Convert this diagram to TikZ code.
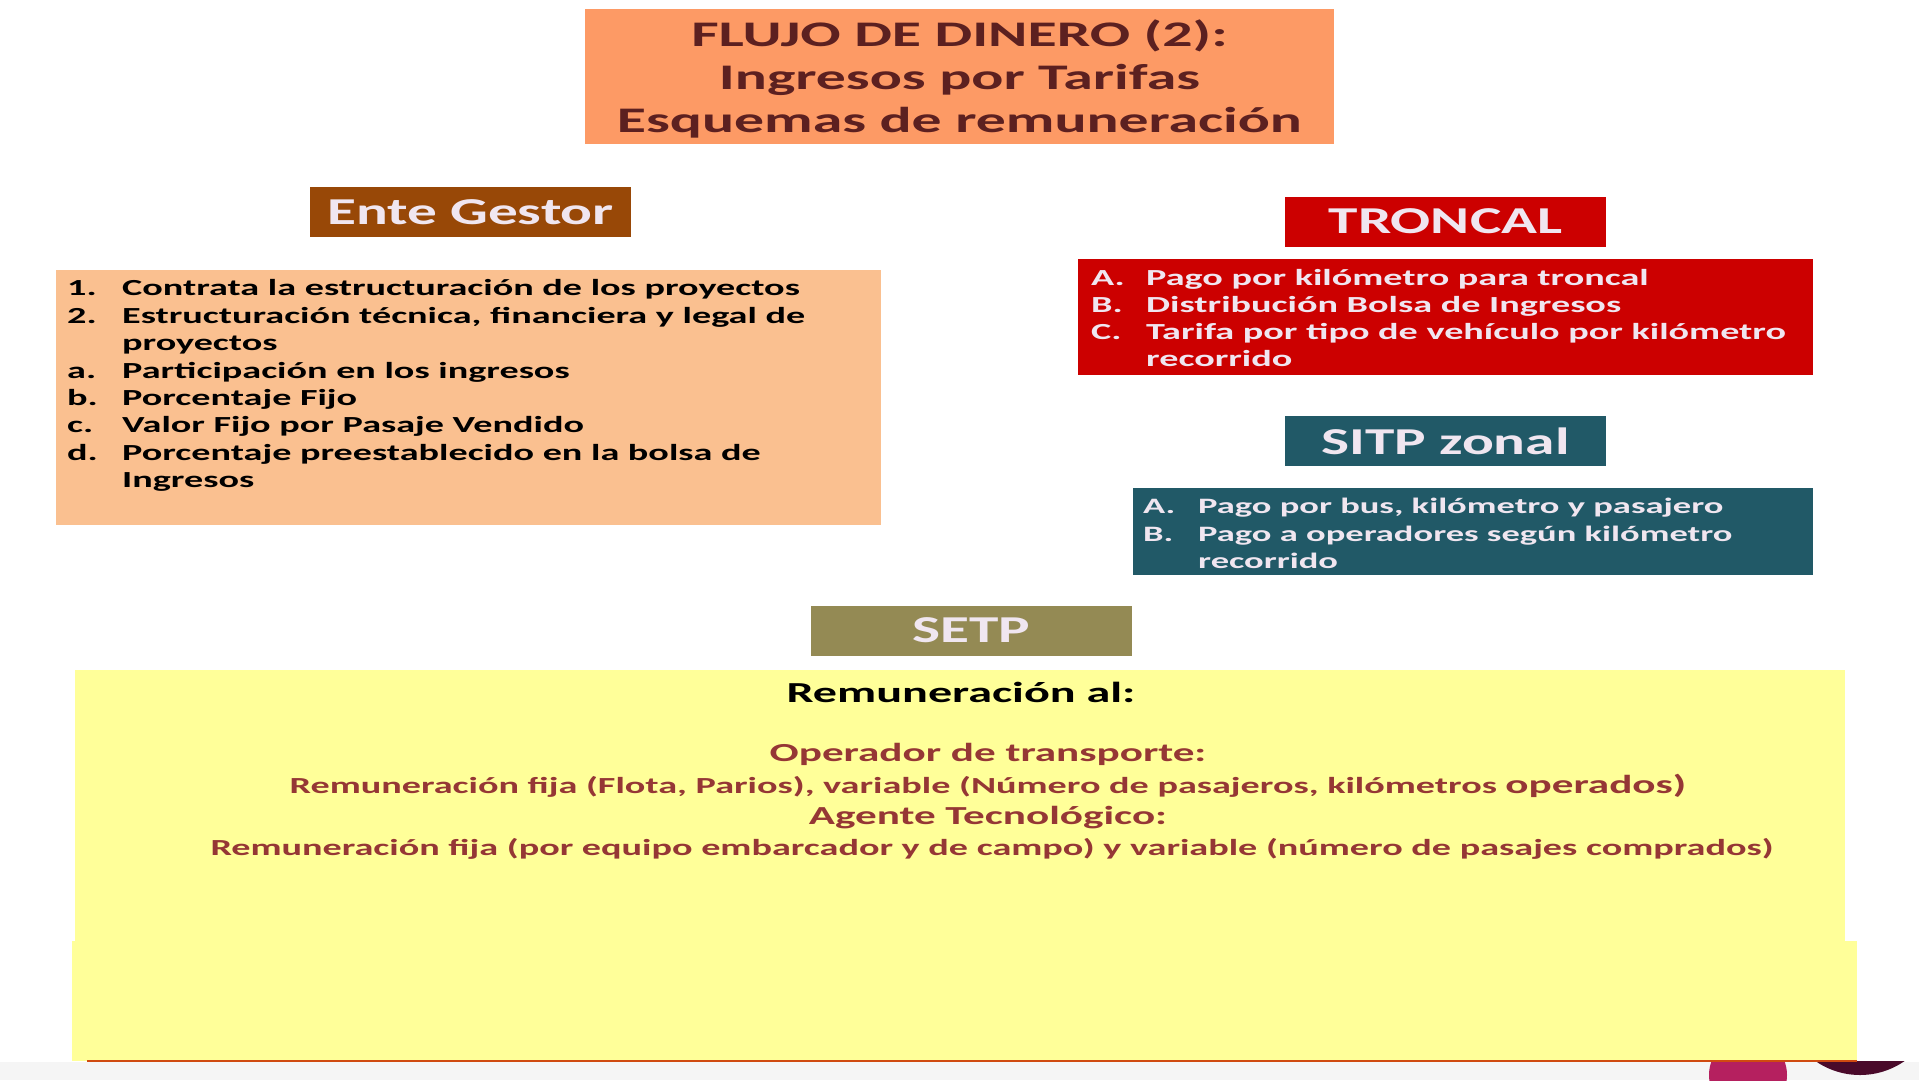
\documentclass[tikz,border=0pt]{standalone}
\usepackage{fontspec}
\setmainfont{Carlito}[FakeStretch=1.66]
\newfontfamily\labfont{Carlito}[FakeStretch=1.56]
\usepackage{array}

\definecolor{titlefill}{HTML}{FD9A65}
\definecolor{titletext}{HTML}{5C2020}
\definecolor{gestorfill}{HTML}{984807}
\definecolor{gestorlist}{HTML}{FAC090}
\definecolor{troncalfill}{HTML}{CC0000}
\definecolor{sitpfill}{HTML}{215967}
\definecolor{setpfill}{HTML}{948A54}
\definecolor{labtext}{HTML}{F0E6F0}
\definecolor{remfill}{HTML}{FFFF99}
\definecolor{remtext}{HTML}{953735}
\definecolor{stripgray}{HTML}{F5F5F5}

\begin{document}
\begin{tikzpicture}[x=1pt,y=-1pt,
        labbox/.style={minimum width=321pt,minimum height=50pt,inner sep=0pt,
            text=labtext,font=\labfont\fontsize{38}{44}\selectfont\bfseries},
        listtext/.style={anchor=north west,inner sep=0pt,align=left},
        remline/.style={anchor=base,inner sep=0pt,text=remtext,
            font=\fontsize{23}{28}\selectfont\bfseries}]
    \useasboundingbox (0,0) rectangle (1919,1080);
    % bottom strip and round marks
    \fill[stripgray] (0,1062) rectangle (1919,1080);
    \begin{scope}
        \clip (0,1061) rectangle (1919,1080);
        \fill[fill={rgb,255:red,181;green,32;blue,95}] (1748,1075) circle (39);
        \fill[fill={rgb,255:red,74;green,10;blue,42}] (1860,997) circle (78);
    \end{scope}
    % title
    \node[fill=titlefill,minimum width=749pt,minimum height=135pt,inner sep=0pt]
        (title) at (959.5,76.5) {};
    \node[inner sep=0pt,text=titletext,align=center,font=\fontsize{36}{43}\selectfont\bfseries]
        (titletxt) at (959.5,79) {FLUJO DE DINERO (2):\\Ingresos por Tarifas\\Esquemas de remuneración};
    % ente gestor
    \node[labbox,fill=gestorfill] (gestor) at (470.5,212) {Ente Gestor};
    \node[fill=gestorlist,minimum width=825pt,minimum height=255pt,inner sep=0pt]
        (gestorbox) at (468.5,397.5) {};
    \node[listtext,font=\fontsize{23}{27.4}\selectfont\bfseries] (gestorlist) at (67,276.5)
        {\begin{tabular}{@{}p{55pt}@{}l@{}}
            1. & Contrata la estructuración de los proyectos\\
            2. & Estructuración técnica, financiera y legal de\\
               & proyectos\\
            a. & Participación en los ingresos\\
            b. & Porcentaje Fijo\\
            c. & Valor Fijo por Pasaje Vendido\\
            d. & Porcentaje preestablecido en la bolsa de\\
               & Ingresos
        \end{tabular}};
    % troncal
    \node[labbox,fill=troncalfill] (troncal) at (1445.5,221.5) {TRONCAL};
    \node[fill=troncalfill,minimum width=735pt,minimum height=116pt,inner sep=0pt]
        (troncalbox) at (1445.5,317) {};
    \node[listtext,text=labtext,font=\fontsize{23}{27}\selectfont\bfseries] (troncallist) at (1091,266.5)
        {\begin{tabular}{@{}p{55pt}@{}l@{}}
            A. & Pago por kilómetro para troncal\\
            B. & Distribución Bolsa de Ingresos\\
            C. & Tarifa por tipo de vehículo por kilómetro\\
               & recorrido
        \end{tabular}};
    % sitp zonal
    \node[labbox,fill=sitpfill] (sitp) at (1445.5,441) {SITP zonal};
    \node[fill=sitpfill,minimum width=680pt,minimum height=87pt,inner sep=0pt]
        (sitpbox) at (1473,531.5) {};
    \node[listtext,text=labtext,font=\fontsize{22}{27.5}\selectfont\bfseries] (sitplist) at (1143,494.5)
        {\begin{tabular}{@{}p{55pt}@{}l@{}}
            A. & Pago por bus, kilómetro y pasajero\\
            B. & Pago a operadores según kilómetro\\
               & recorrido
        \end{tabular}};
    % setp
    \node[labbox,fill=setpfill] (setp) at (971,630.5) {SETP};
    \fill[remfill] (75,670) rectangle (1845,942);
    \fill[remfill] (72,941) rectangle (1857,1061);
    \draw[draw={rgb,255:red,208;green,74;blue,16},line width=1.2pt] (87,1061) -- (1857,1061);
    \node[anchor=base,inner sep=0pt,font=\fontsize{29}{34}\selectfont\bfseries]
        (remtitle) at (961,702) {Remuneración al:};
    \node[remline,font=\fontsize{26}{31}\selectfont\bfseries] (operador) at (988,761) {Operador de transporte:};
    \node[remline] (operadortxt) at (988,793)
        {Remuneración fija (Flota, Parios), variable (Número de pasajeros, kilómetros {\fontsize{26}{31}\selectfont operados)}};
    \node[remline,font=\fontsize{26}{31}\selectfont\bfseries] (agente) at (988,824) {Agente Tecnológico:};
    \node[remline] (agentetxt) at (992,855)
        {Remuneración fija (por equipo embarcador y de campo) y variable (número de pasajes comprados)};
\end{tikzpicture}
\end{document}
